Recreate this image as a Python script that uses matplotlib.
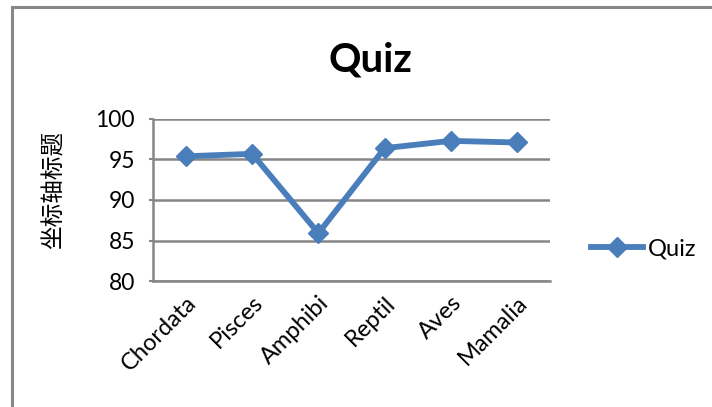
import matplotlib.pyplot as plt
from matplotlib.lines import Line2D

categories = ['Chordata', 'Pisces', 'Amphibi', 'Reptil', 'Aves', 'Mamalia']
quiz = [95.4, 95.7, 85.9, 96.4, 97.3, 97.1]
yticks = [80, 85, 90, 95, 100]

W, H = 712, 407
blue = '#4A7EBB'
grey = '#868686'

plt.rcParams['font.family'] = ['Lato', 'DejaVu Sans']

fig = plt.figure(figsize=(W / 100, H / 100), dpi=100)
ax = fig.add_axes([153 / W, 1 - 281 / H, (550 - 153) / W, (281 - 119) / H])

ax.plot(range(len(categories)), quiz, color=blue, lw=4.2, marker='D',
        markersize=10.5, label='Quiz', solid_joinstyle='round')

ax.set_xlim(-0.5, len(categories) - 0.5)
ax.set_ylim(80, 100)
ax.set_yticks(yticks)
ax.set_xticks(range(len(categories)))
ax.set_xticklabels(categories, rotation=45, ha='right', rotation_mode='anchor',
                   fontsize=17)
ax.tick_params(axis='y', labelsize=16.5, length=3, width=1.5, color=grey, pad=10)
ax.tick_params(axis='x', length=0, pad=8)

# horizontal grid
ax.grid(True, axis='y', color=grey, lw=1.8)
ax.set_axisbelow(True)
for s in ['top', 'right']:
    ax.spines[s].set_visible(False)
for s in ['left', 'bottom']:
    ax.spines[s].set_color(grey)
    ax.spines[s].set_linewidth(1.8)

ax.set_ylabel('坐标轴标题', family=['Noto Sans CJK SC', 'DejaVu Sans'],
              fontsize=17)
ax.yaxis.set_label_coords((66 - 153) / (550 - 153), (281 - 190) / (281 - 119))

fig.text(370 / W, 1 - 60 / H, 'Quiz', fontsize=29, fontweight='bold',
         ha='center', va='center')

fig.legend(loc='center left', bbox_to_anchor=(570 / W, 1 - 249 / H),
           frameon=False, fontsize=17, handlelength=2.2, handletextpad=0.2)

# chart border
fig.add_artist(Line2D([12 / W, 12 / W], [0, 1 - 7 / H], color='#888888', lw=2.2))
fig.add_artist(Line2D([12 / W, 1], [1 - 7 / H, 1 - 7 / H], color='#888888', lw=2.2))

fig.savefig('out.png', dpi=100)
